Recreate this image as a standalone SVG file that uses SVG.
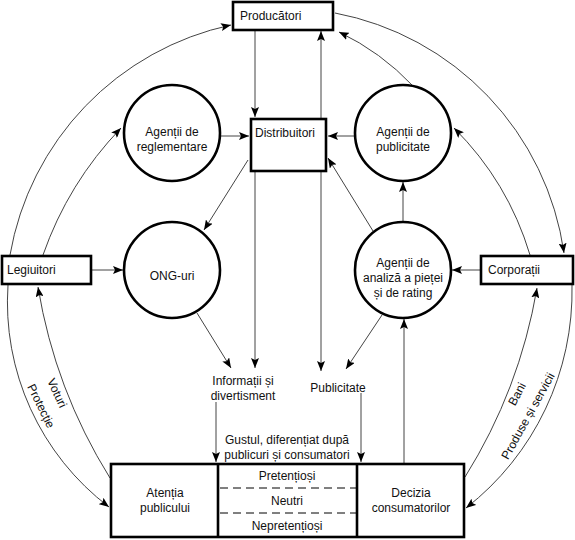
<svg xmlns="http://www.w3.org/2000/svg" width="575" height="540" viewBox="0 0 575 540">
<style>
text{font-family:"Liberation Sans",Arial,sans-serif;font-size:12px;fill:#111}
.c{text-anchor:middle}
.box{fill:#fff;stroke:#000;stroke-width:2.6}
.circ{fill:#fff;stroke:#000;stroke-width:2.6}
.ln{fill:none;stroke:#444;stroke-width:1;marker-end:url(#ah)}
.dash{stroke:#000;stroke-width:1;stroke-dasharray:8 5}
</style>
<defs>
<marker id="ah" viewBox="0 0 10 8" refX="10" refY="4" markerWidth="10" markerHeight="8" orient="auto" markerUnits="userSpaceOnUse">
<path d="M0,0 L10,4 L0,8 L2,4 z" fill="#000"/>
</marker>
</defs>
<rect width="575" height="540" fill="#fff"/>

<g id="connectors">
<path class="ln" d="M255,30 L255,117"/>
<path class="ln" d="M321,118 L321,31"/>
<path class="ln" d="M321,172 L321,371"/>
<path class="ln" d="M255,172 L255,368"/>
<path class="ln" d="M220,136 L249,136"/>
<path class="ln" d="M355,136 L328,136"/>
<path class="ln" d="M248,160 L204,230"/>
<path class="ln" d="M373,231 L328,158"/>
<path class="ln" d="M403,222 L403,182"/>
<path class="ln" d="M92,270 L123,270"/>
<path class="ln" d="M480,270 L452,270"/>
<path class="ln" d="M197,313 L231,368"/>
<path class="ln" d="M382,315 L346,369"/>
<path class="ln" d="M216,402 L216,462"/>
<path class="ln" d="M361,393 L361,462"/>
<path class="ln" d="M404,463 L404,319"/>
<path class="ln" d="M10,255 A285,285 0 0 1 231,25"/>
<path class="ln" d="M43,255 A350,350 0 0 1 121,128"/>
<path class="ln" d="M8,285 A257,257 0 0 0 109,507"/>
<path class="ln" d="M110,478 A522,522 0 0 1 38,287"/>
<path class="ln" d="M335,13 A285,285 0 0 1 564,253"/>
<path class="ln" d="M530,255 A302,302 0 0 0 454,128"/>
<path class="ln" d="M413,86 A250,250 0 0 0 339,32"/>
<path class="ln" d="M572,285 A275,275 0 0 1 466,508"/>
<path class="ln" d="M465,477 A522,522 0 0 0 537,288"/>
<text class="c" transform="translate(57,393) rotate(65)" y="4">Voturi</text>
<text class="c" transform="translate(41,406) rotate(64)" y="4">Protecție</text>
<text class="c" transform="translate(517,394) rotate(-62)" y="4">Bani</text>
<text class="c" transform="translate(528,416) rotate(-61)" y="4">Produse și servicii</text>
</g>

<g id="producatori">
<rect class="box" x="233" y="2" width="100" height="28"/>
<text x="240" y="20">Producători</text>
</g>
<g id="distribuitori">
<rect class="box" x="251" y="119" width="75" height="52"/>
<text x="255" y="137">Distribuitori</text>
</g>
<g id="agentii-reglementare">
<circle class="circ" cx="172" cy="133" r="48"/>
<text class="c" x="172" y="136">Agenții de</text>
<text class="c" x="172" y="151">reglementare</text>
</g>
<g id="agentii-publicitate">
<circle class="circ" cx="403" cy="133" r="48"/>
<text class="c" x="403" y="136">Agenții de</text>
<text class="c" x="403" y="151">publicitate</text>
</g>
<g id="ong">
<circle class="circ" cx="172" cy="270" r="48"/>
<text class="c" x="172" y="280">ONG-uri</text>
</g>
<g id="agentii-analiza">
<circle class="circ" cx="403" cy="270" r="48"/>
<text class="c" x="403" y="267">Agenții de</text>
<text class="c" x="403" y="282">analiză a pieței</text>
<text class="c" x="403" y="297">și de rating</text>
</g>
<g id="legiuitori">
<rect class="box" x="2" y="256" width="89" height="28"/>
<text x="7" y="274">Legiuitori</text>
</g>
<g id="corporatii">
<rect class="box" x="481" y="256" width="92" height="28"/>
<text x="488" y="274">Corporații</text>
</g>
<g id="informatii">
<text class="c" x="243" y="385">Informații și</text>
<text class="c" x="243" y="400">divertisment</text>
</g>
<g id="publicitate">
<text class="c" x="338" y="392">Publicitate</text>
</g>
<g id="gustul">
<text class="c" x="287" y="444">Gustul, diferențiat după</text>
<text class="c" x="287" y="459">publicuri și consumatori</text>
</g>
<g id="public-box">
<rect class="box" x="111" y="464" width="353" height="73"/>
<line x1="218" y1="464" x2="218" y2="537" stroke="#000" stroke-width="2.6"/>
<line x1="357" y1="464" x2="357" y2="537" stroke="#000" stroke-width="2.6"/>
<line class="dash" x1="220" y1="488" x2="356" y2="488"/>
<line class="dash" x1="220" y1="513" x2="356" y2="513"/>
<text class="c" x="165" y="497">Atenția</text>
<text class="c" x="165" y="512">publicului</text>
<text class="c" x="287" y="480">Pretențioși</text>
<text class="c" x="287" y="505">Neutri</text>
<text class="c" x="287" y="530">Nepretențioși</text>
<text class="c" x="411" y="497">Decizia</text>
<text class="c" x="411" y="512">consumatorilor</text>
</g>
</svg>
